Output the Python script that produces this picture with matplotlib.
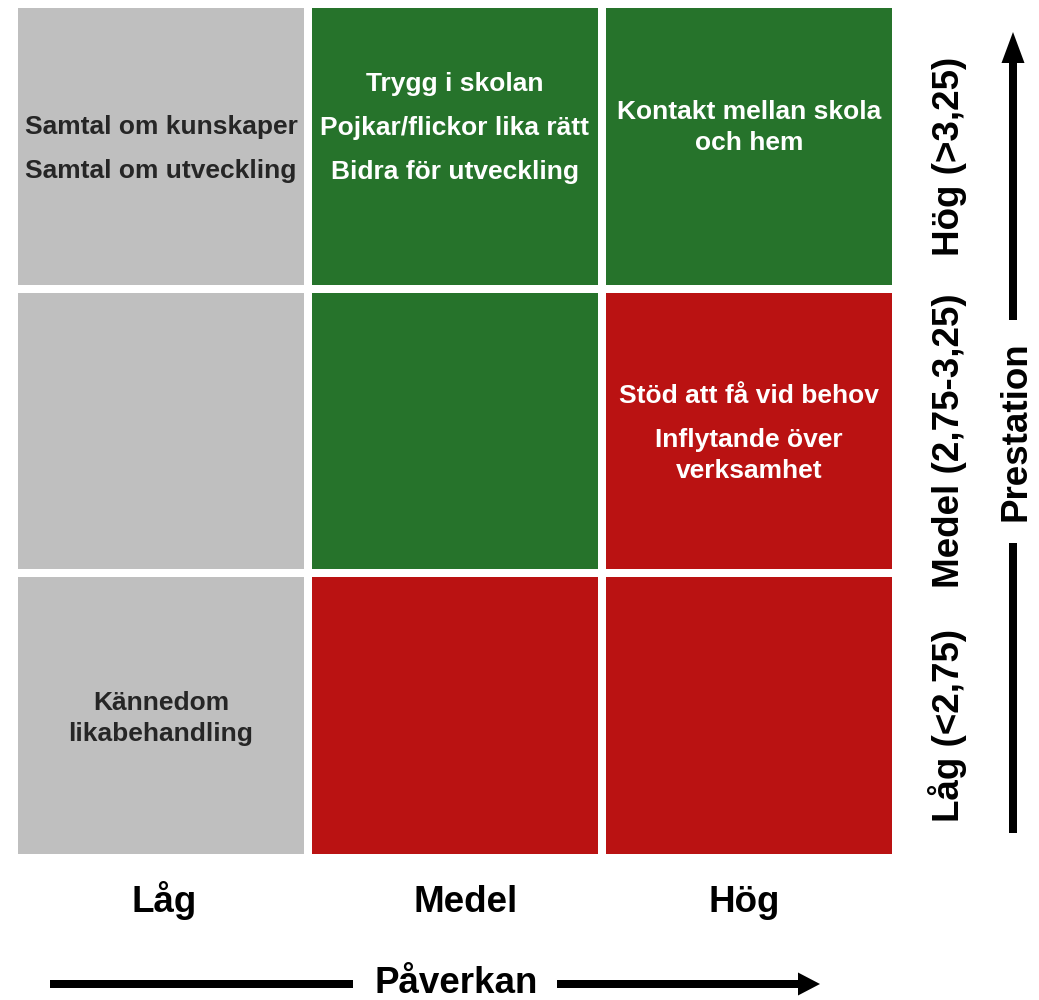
import numpy as np
import matplotlib.pyplot as plt
from matplotlib.patches import Rectangle

plt.rcParams['font.family'] = ['Liberation Sans', 'DejaVu Sans']
plt.rcParams['font.weight'] = 'bold'

# axis categories
levels = ['Låg', 'Medel', 'Hög']
perf_labels = ['Låg (<2,75)', 'Medel (2,75-3,25)', 'Hög (>3,25)']
x_title = 'Påverkan'
y_title = 'Prestation'

# rows go from bottom (Låg prestation) to top, columns Låg..Hög påverkan
cell_class = [
    ['grey', 'red', 'red'],
    ['grey', 'green', 'red'],
    ['grey', 'green', 'green'],
]
cell_items = {
    (2, 0): ['Samtal om kunskaper', 'Samtal om utveckling'],
    (2, 1): ['Trygg i skolan', 'Pojkar/flickor lika rätt', 'Bidra för utveckling'],
    (2, 2): ['Kontakt mellan skola\noch hem'],
    (1, 2): ['Stöd att få vid behov', 'Inflytande över\nverksamhet'],
    (0, 0): ['Kännedom\nlikabehandling'],
}

fill = {'grey': '#BFBFBF', 'green': '#26732B', 'red': '#BA1212'}
ink = {'grey': '#262626', 'green': 'white', 'red': 'white'}

W, H = 1039, 1000
PT = 0.72  # points per pixel at dpi 100

fig = plt.figure(figsize=(W / 100, H / 100), dpi=100)

# grid area in pixels (incl. half gap round the edge)
gl, gr, gt, gb = 14, 896, 4, 858
ax = fig.add_axes([gl / W, 1 - gb / H, (gr - gl) / W, (gb - gt) / H])
ax.set_xlim(0, 3)
ax.set_ylim(0, 3)
ax.axis('off')
gx = 8 / ((gr - gl) / 3)
gy = 8 / ((gb - gt) / 3)

item_step, wrap_step = 44, 31
shift = {(2, 1): -21, (2, 2): -21}

for r in range(3):
    for c in range(3):
        kind = cell_class[r][c]
        ax.add_patch(Rectangle((c + gx / 2, r + gy / 2), 1 - gx, 1 - gy,
                               facecolor=fill[kind], edgecolor='none'))
        items = cell_items.get((r, c), [])
        lines, ys, y = [], [], 0
        for k, item in enumerate(items):
            if k > 0:
                y += item_step
            for j, ln in enumerate(item.split('\n')):
                if j > 0:
                    y += wrap_step
                lines.append(ln)
                ys.append(y)
        if not lines:
            continue
        mid = (ys[0] + ys[-1]) / 2
        for ln, yy in zip(lines, ys):
            off = yy - mid + shift.get((r, c), 0) + 9.5
            ax.annotate(ln, xy=(c + 0.5, r + 0.5), xytext=(0, -off * PT),
                        textcoords='offset points', ha='center', va='baseline',
                        fontsize=19, color=ink[kind])

# bottom category labels
for i, lab in enumerate(levels):
    dx = [3, 11, -5][i]
    ax.annotate(lab, xy=(i + 0.5, H - 912), xycoords=('data', 'figure pixels'),
                xytext=(dx * PT, 0), textcoords='offset points',
                ha='center', va='baseline', fontsize=26.5, color='black',
                annotation_clip=False)

# right side category labels
for i, lab in enumerate(perf_labels):
    ax.annotate(lab, xy=(959, i + 0.5), xycoords=('figure pixels', 'data'),
                xytext=(0, -10 * PT), textcoords='offset points',
                rotation=90, rotation_mode='anchor', ha='center', va='baseline',
                fontsize=26.5, color='black', annotation_clip=False)

# overlay in pixel coordinates for arrows and titles
ov = fig.add_axes([0, 0, 1, 1])
ov.set_xlim(0, W)
ov.set_ylim(H, 0)
ov.axis('off')
ov.patch.set_visible(False)

ov.plot([1013, 1013], [543, 833], color='black', lw=8 * PT, solid_capstyle='butt')
ov.arrow(1013, 320, 0, 32 - 320, width=8, head_width=23, head_length=31,
         length_includes_head=True, color='black', lw=0)
ov.text(1025, 431, y_title, rotation=90, rotation_mode='anchor',
        ha='center', va='baseline', fontsize=26.5, color='black')

ov.plot([50, 353], [984, 984], color='black', lw=8 * PT, solid_capstyle='butt')
ov.arrow(557, 984, 820 - 557, 0, width=8, head_width=23, head_length=22,
         length_includes_head=True, color='black', lw=0)
ov.text(456, 993, x_title, ha='center', va='baseline', fontsize=26.5, color='black')

fig.savefig('out.png', dpi=100)
